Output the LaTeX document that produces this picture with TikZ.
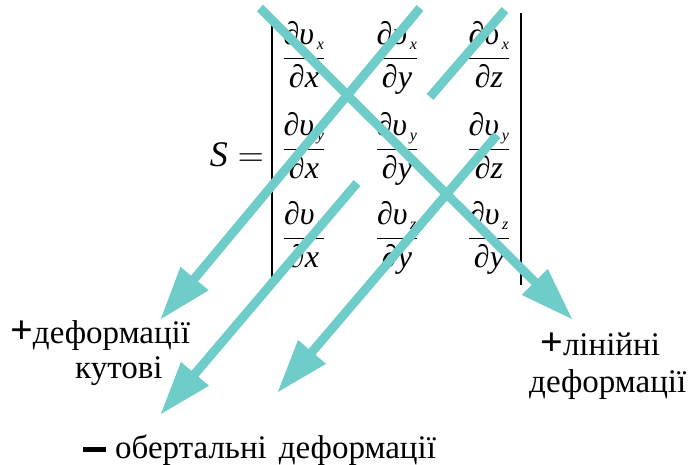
\RequirePackage{fix-cm}
\documentclass[tikz,border=0pt]{standalone}
\usepackage{amsmath}
\usepackage{fontspec}
\setmainfont{Liberation Serif}
\usepackage{tikz}
\usetikzlibrary{arrows.meta,positioning}
\definecolor{stripcol}{HTML}{6ECDC8}
\tikzset{
    strip/.style={line width=9pt, draw=stripcol},
    striparrow/.style={strip, -{Triangle[length=54pt,width=34pt]}},
    signtext/.style={anchor=base west, inner sep=0pt, font=\fontsize{33}{37}\selectfont},
    bar/.style={line width=1.2pt}
}
\newcommand\mi[1]{\text{\itshape #1}}
\newcommand\pd[2]{\dfrac{\mi{∂υ}_{\scriptscriptstyle\,\mi{#1}}}{\mi{∂#2}}}
\newcommand\plussign{{\fontsize{40}{40}\selectfont\bfseries +}}
\newcommand\minussign{\rule[6pt]{23pt}{5pt}}

\begin{document}
\begin{tikzpicture}[
    x=1pt, y=-1pt,
    cell/.style={anchor=base, inner sep=0pt, font=\fontsize{32}{36}\selectfont}
]
\useasboundingbox (0,0) rectangle (688,465);

% Matrix
\node[cell, anchor=base east, font=\fontsize{36}{40}\selectfont] (eq) at (264,167) {$\mi{S}=$};
\node[cell] (c11) at (304,66) {$\pd{x}{x}$};
\node[cell] (c12) at (397,66) {$\pd{x}{y}$};
\node[cell] (c13) at (489,66) {$\pd{x}{z}$};
\node[cell] (c21) at (304,157) {$\pd{y}{x}$};
\node[cell] (c22) at (397,157) {$\pd{y}{y}$};
\node[cell] (c23) at (489,157) {$\pd{y}{z}$};
\node[cell] (c31) at (304,246) {$\pd{z}{x}$};
\node[cell] (c32) at (397,246) {$\pd{z}{y}$};
\node[cell] (c33) at (489,246) {$\pd{z}{y}$};
\draw[bar] (272,15) -- (272,283);
\draw[bar] (521,13) -- (521,285);

% Strips
\coordinate (s1) at (260,8);    \coordinate (t1) at (573,320);
\coordinate (s2) at (420,8);    \coordinate (t2) at (160,320);
\coordinate (s3) at (505,10);   \coordinate (t3) at (430,97);
\coordinate (s4) at (357,183);  \coordinate (t4) at (160,415);
\coordinate (s5) at (497,135);  \coordinate (t5) at (277,393);
\draw[striparrow] (s1) -- (t1);
\draw[striparrow] (s2) -- (t2);
\draw[strip] (s3) -- (t3);
\draw[striparrow] (s4) -- (t4);
\draw[striparrow] (s5) -- (t5);

% Labels
\node[signtext] (angular) at (10,343) {\plussign деформації};
\node[signtext] (angular2) at (75,378) {кутові};
\node[signtext] (linear) at (540,355) {\plussign лінійні};
\node[signtext] (linear2) at (529,392) {деформації};
\node[signtext] (rotation) at (83,458) {\minussign\hspace{9pt}обертальні\hspace{12pt}деформації};
\end{tikzpicture}
\end{document}
